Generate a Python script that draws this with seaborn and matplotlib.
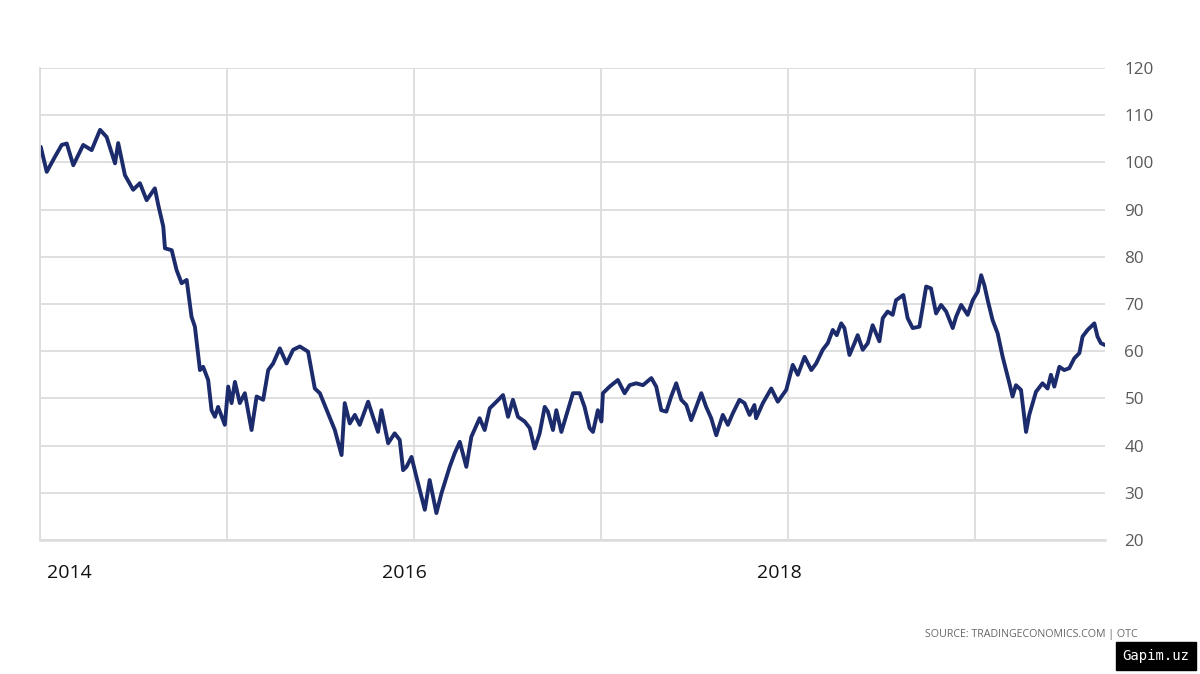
import numpy as np
import pandas as pd
import matplotlib
matplotlib.use('Agg')
import matplotlib.pyplot as plt
from matplotlib.transforms import ScaledTranslation
import seaborn as sns

# years since 2014-01-01
years = [0.004, 0.036, 0.080, 0.116, 0.143, 0.178, 0.231, 0.276, 0.321, 0.356,
         0.401, 0.418, 0.454, 0.498, 0.534, 0.570, 0.614, 0.632, 0.659, 0.668,
         0.704, 0.730, 0.757, 0.784, 0.810, 0.828, 0.855, 0.872, 0.899, 0.917,
         0.935, 0.952, 0.988, 1.006, 1.024, 1.042, 1.068, 1.095, 1.131, 1.158,
         1.193, 1.220, 1.246, 1.282, 1.318, 1.353, 1.389, 1.433, 1.469, 1.496,
         1.540, 1.576, 1.612, 1.629, 1.656, 1.683, 1.709, 1.754, 1.780, 1.807,
         1.825, 1.861, 1.896, 1.923, 1.941, 1.959, 1.986, 2.012, 2.057, 2.083,
         2.119, 2.146, 2.190, 2.217, 2.244, 2.279, 2.306, 2.350, 2.377, 2.404,
         2.440, 2.475, 2.502, 2.528, 2.555, 2.591, 2.618, 2.644, 2.671, 2.698,
         2.715, 2.742, 2.760, 2.787, 2.814, 2.849, 2.885, 2.911, 2.938, 2.956,
         2.982, 3.001, 3.009, 3.045, 3.089, 3.125, 3.152, 3.187, 3.223, 3.268,
         3.294, 3.321, 3.348, 3.374, 3.401, 3.428, 3.455, 3.481, 3.508, 3.535,
         3.561, 3.588, 3.615, 3.650, 3.677, 3.703, 3.739, 3.766, 3.793, 3.819,
         3.828, 3.864, 3.909, 3.944, 3.989, 4.024, 4.051, 4.087, 4.123, 4.149,
         4.184, 4.211, 4.238, 4.259, 4.283, 4.300, 4.327, 4.354, 4.371, 4.398,
         4.425, 4.451, 4.487, 4.505, 4.531, 4.558, 4.576, 4.615, 4.638, 4.665,
         4.701, 4.737, 4.763, 4.790, 4.817, 4.844, 4.879, 4.897, 4.924, 4.959,
         4.986, 5.013, 5.031, 5.048, 5.066, 5.092, 5.119, 5.146, 5.164, 5.182,
         5.199, 5.217, 5.244, 5.271, 5.288, 5.324, 5.359, 5.386, 5.404, 5.422,
         5.449, 5.475, 5.502, 5.529, 5.556, 5.573, 5.600, 5.636, 5.653, 5.671,
         5.693]
price = [103.3, 98.0, 101.2, 103.7, 104.0, 99.4, 103.7, 102.6, 106.9, 105.4,
         99.8, 104.1, 97.3, 94.2, 95.6, 92.0, 94.5, 91.0, 86.4, 81.8,
         81.4, 77.2, 74.4, 75.1, 67.3, 65.2, 56.0, 56.7, 53.9, 47.5,
         46.1, 48.2, 44.4, 52.5, 49.0, 53.5, 49.0, 51.1, 43.3, 50.4,
         49.7, 56.0, 57.4, 60.6, 57.4, 60.3, 61.0, 59.9, 52.1, 51.1,
         46.8, 43.3, 38.0, 49.0, 44.7, 46.5, 44.4, 49.3, 46.1, 42.9,
         47.5, 40.5, 42.6, 41.2, 34.8, 35.5, 37.6, 33.4, 26.4, 32.7,
         25.7, 29.9, 35.5, 38.4, 40.8, 35.5, 41.9, 45.8, 43.3, 47.9,
         49.3, 50.7, 46.1, 49.7, 46.1, 45.1, 43.7, 39.4, 42.6, 48.2,
         47.2, 43.3, 47.5, 42.9, 46.5, 51.1, 51.1, 48.2, 43.7, 42.9,
         47.5, 45.1, 51.1, 52.5, 53.9, 51.1, 52.8, 53.2, 52.8, 54.3,
         52.5, 47.5, 47.2, 50.4, 53.2, 49.7, 48.6, 45.4, 48.2, 51.1,
         48.2, 45.8, 42.2, 46.5, 44.4, 46.8, 49.7, 49.0, 46.5, 48.6,
         45.8, 49.0, 52.1, 49.3, 51.8, 57.1, 55.0, 58.8, 56.0, 57.4,
         60.3, 61.7, 64.5, 63.4, 65.9, 64.9, 59.2, 61.7, 63.4, 60.3,
         61.7, 65.5, 62.1, 67.0, 68.4, 67.7, 70.8, 71.9, 67.0, 64.9,
         65.2, 73.7, 73.3, 68.0, 69.8, 68.4, 64.9, 67.3, 69.8, 67.7,
         70.8, 72.6, 76.1, 74.0, 70.8, 66.6, 63.8, 58.8, 56.0, 53.2,
         50.4, 52.8, 51.8, 42.9, 46.5, 51.4, 53.2, 52.1, 55.0, 52.5,
         56.7, 56.0, 56.4, 58.5, 59.6, 63.1, 64.5, 65.9, 63.1, 61.7,
         61.3]

y_ticks = [20, 30, 40, 50, 60, 70, 80, 90, 100, 110, 120]
x_labels = {2014: '2014', 2016: '2016', 2018: '2018'}

start = pd.Timestamp('2014-01-01')
df = pd.DataFrame({
    'date': start + pd.to_timedelta(np.array(years) * 365.25, unit='D'),
    'price': price,
})

sns.set_style('white')
plt.rcParams['font.family'] = ['Open Sans', 'DejaVu Sans']

fig = plt.figure(figsize=(12, 6.74), dpi=100)
ax = fig.add_axes([40 / 1200, 1 - 540 / 674, 1065 / 1200, 472 / 674])

sns.lineplot(data=df, x='date', y='price', ax=ax, color='#1c2b6b', lw=2.8)

ax.set_ylim(20, 120)
ax.set_xlim(start, df['date'].iloc[-1])
ax.set_yticks(y_ticks)
ax.yaxis.tick_right()
ax.tick_params(axis='y', length=0, pad=14, labelsize=12.3, labelcolor='#595959')

year_ticks = [pd.Timestamp(f'{y}-01-01') for y in range(2014, 2020)]
ax.set_xticks(year_ticks)
ax.set_xticklabels([x_labels.get(t.year, '') for t in year_ticks])
ax.tick_params(axis='x', length=0, pad=17, labelsize=14, labelcolor='#111111')
for lab in ax.get_xticklabels():
    if lab.get_text() == '2014':
        # first label is kept inside the plot edge
        lab.set_horizontalalignment('left')
        shift = 7
    else:
        lab.set_horizontalalignment('center')
        shift = -9
    lab.set_transform(lab.get_transform() + ScaledTranslation(shift / 100, 0, fig.dpi_scale_trans))

ax.grid(True, color='#dcdcdc', lw=1.3)
ax.set_axisbelow(True)
for side in ['top', 'right']:
    ax.spines[side].set_visible(False)
ax.spines['left'].set_color('#dcdcdc')
ax.spines['bottom'].set_color('#dcdcdc')
ax.spines['left'].set_linewidth(1.3)
ax.spines['bottom'].set_linewidth(1.8)
ax.set_xlabel('')
ax.set_ylabel('')

fig.text(1138 / 1200, 1 - 635 / 674, 'SOURCE: TRADINGECONOMICS.COM | OTC',
         ha='right', va='center', fontsize=7.7, color='#666666')
fig.text(1156 / 1200, 1 - 656 / 674, 'Gapim.uz', ha='center', va='center',
         fontsize=10, color='white', family='DejaVu Sans Mono',
         bbox=dict(boxstyle='square,pad=0.5', fc='black', ec='black'))

fig.savefig('out.png', dpi=100)
